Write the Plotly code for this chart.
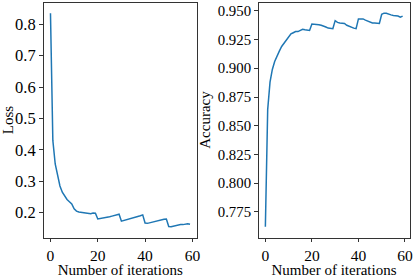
import plotly.graph_objects as go

iterations = list(range(60))
loss = [0.835, 0.43, 0.355, 0.315, 0.285, 0.265, 0.252, 0.242, 0.235, 0.228,
        0.212, 0.205, 0.202, 0.201, 0.200, 0.198, 0.196, 0.197, 0.199, 0.198,
        0.180, 0.181, 0.182, 0.184, 0.185, 0.187, 0.189, 0.191, 0.193, 0.195,
        0.173, 0.175, 0.177, 0.179, 0.180, 0.182, 0.184, 0.187, 0.190, 0.193,
        0.167, 0.166, 0.168, 0.171, 0.173, 0.175, 0.176, 0.177, 0.179, 0.180,
        0.156, 0.155, 0.157, 0.159, 0.161, 0.162, 0.162, 0.163, 0.165, 0.163]
accuracy = [0.762, 0.864, 0.888, 0.899, 0.906, 0.911, 0.915, 0.919, 0.922, 0.925,
            0.928, 0.930, 0.931, 0.932, 0.932, 0.933, 0.934, 0.9335, 0.933, 0.933,
            0.9385, 0.9385, 0.938, 0.938, 0.9375, 0.937, 0.936, 0.935, 0.9345, 0.9345,
            0.9415, 0.940, 0.9395, 0.939, 0.939, 0.9375, 0.9365, 0.936, 0.935, 0.9345,
            0.943, 0.943, 0.943, 0.942, 0.941, 0.940, 0.9395, 0.9395, 0.939, 0.939,
            0.947, 0.948, 0.948, 0.947, 0.9465, 0.946, 0.946, 0.9455, 0.9445, 0.9455]
loss_ticks = [0.2, 0.3, 0.4, 0.5, 0.6, 0.7, 0.8]
acc_ticks = [0.775, 0.800, 0.825, 0.850, 0.875, 0.900, 0.925, 0.950]
x_ticks = [0, 20, 40, 60]

W, H = 415, 278
fig = go.Figure()
fig.add_trace(go.Scatter(x=iterations, y=loss, mode="lines",
                         line=dict(color="#1f77b4", width=1.5), xaxis="x", yaxis="y"))
fig.add_trace(go.Scatter(x=iterations, y=accuracy, mode="lines",
                         line=dict(color="#1f77b4", width=1.5), xaxis="x2", yaxis="y2"))

FAM = "Liberation Serif"
title_font = dict(family=FAM, size=15, color="black")
ydom = [1 - 237.5 / H, 1 - 2.5 / H]

def xa(dom, anchor):
    return dict(domain=dom, anchor=anchor, range=[-2.95, 61.95], tickvals=x_ticks,
                ticks="outside", ticklen=3.5, tickwidth=0.8, tickcolor="#333",
                showline=True, linecolor="#333", linewidth=1, mirror=True,
                showgrid=False, zeroline=False,
                tickfont=dict(family=FAM, size=15.5, color="black"), automargin=False,
                title=dict(text="Number of iterations", font=title_font, standoff=1))

def ya(rng, ticks, fmt, anchor, title, tsize):
    return dict(domain=ydom, anchor=anchor, range=rng, tickvals=ticks,
                ticktext=[fmt.format(t) for t in ticks],
                ticks="outside", ticklen=3.5, tickwidth=0.8, tickcolor="#333",
                showline=True, linecolor="#333", linewidth=1, mirror=True,
                showgrid=False, zeroline=False,
                tickfont=dict(family=FAM, size=tsize, color="black"), automargin=False,
                title=dict(text=title, font=title_font, standoff=3))

fig.update_layout(
    width=W, height=H, margin=dict(l=0, r=0, t=0, b=0, autoexpand=False),
    paper_bgcolor="white", plot_bgcolor="white", showlegend=False,
    xaxis=xa([43.5 / W, 197 / W], "y"),
    xaxis2=xa([258.5 / W, 409.5 / W], "y2"),
    yaxis=ya([0.121, 0.869], loss_ticks, "{:.1f}", "x", "Loss", 16.5),
    yaxis2=ya([0.7527, 0.9573], acc_ticks, "{:.3f}", "x2", "Accuracy", 14.8),
)
fig.write_html("out.html", config={"displayModeBar": False},
               post_script="document.body.style.margin='0px';document.body.style.padding='0px';document.body.style.overflow='hidden';")
